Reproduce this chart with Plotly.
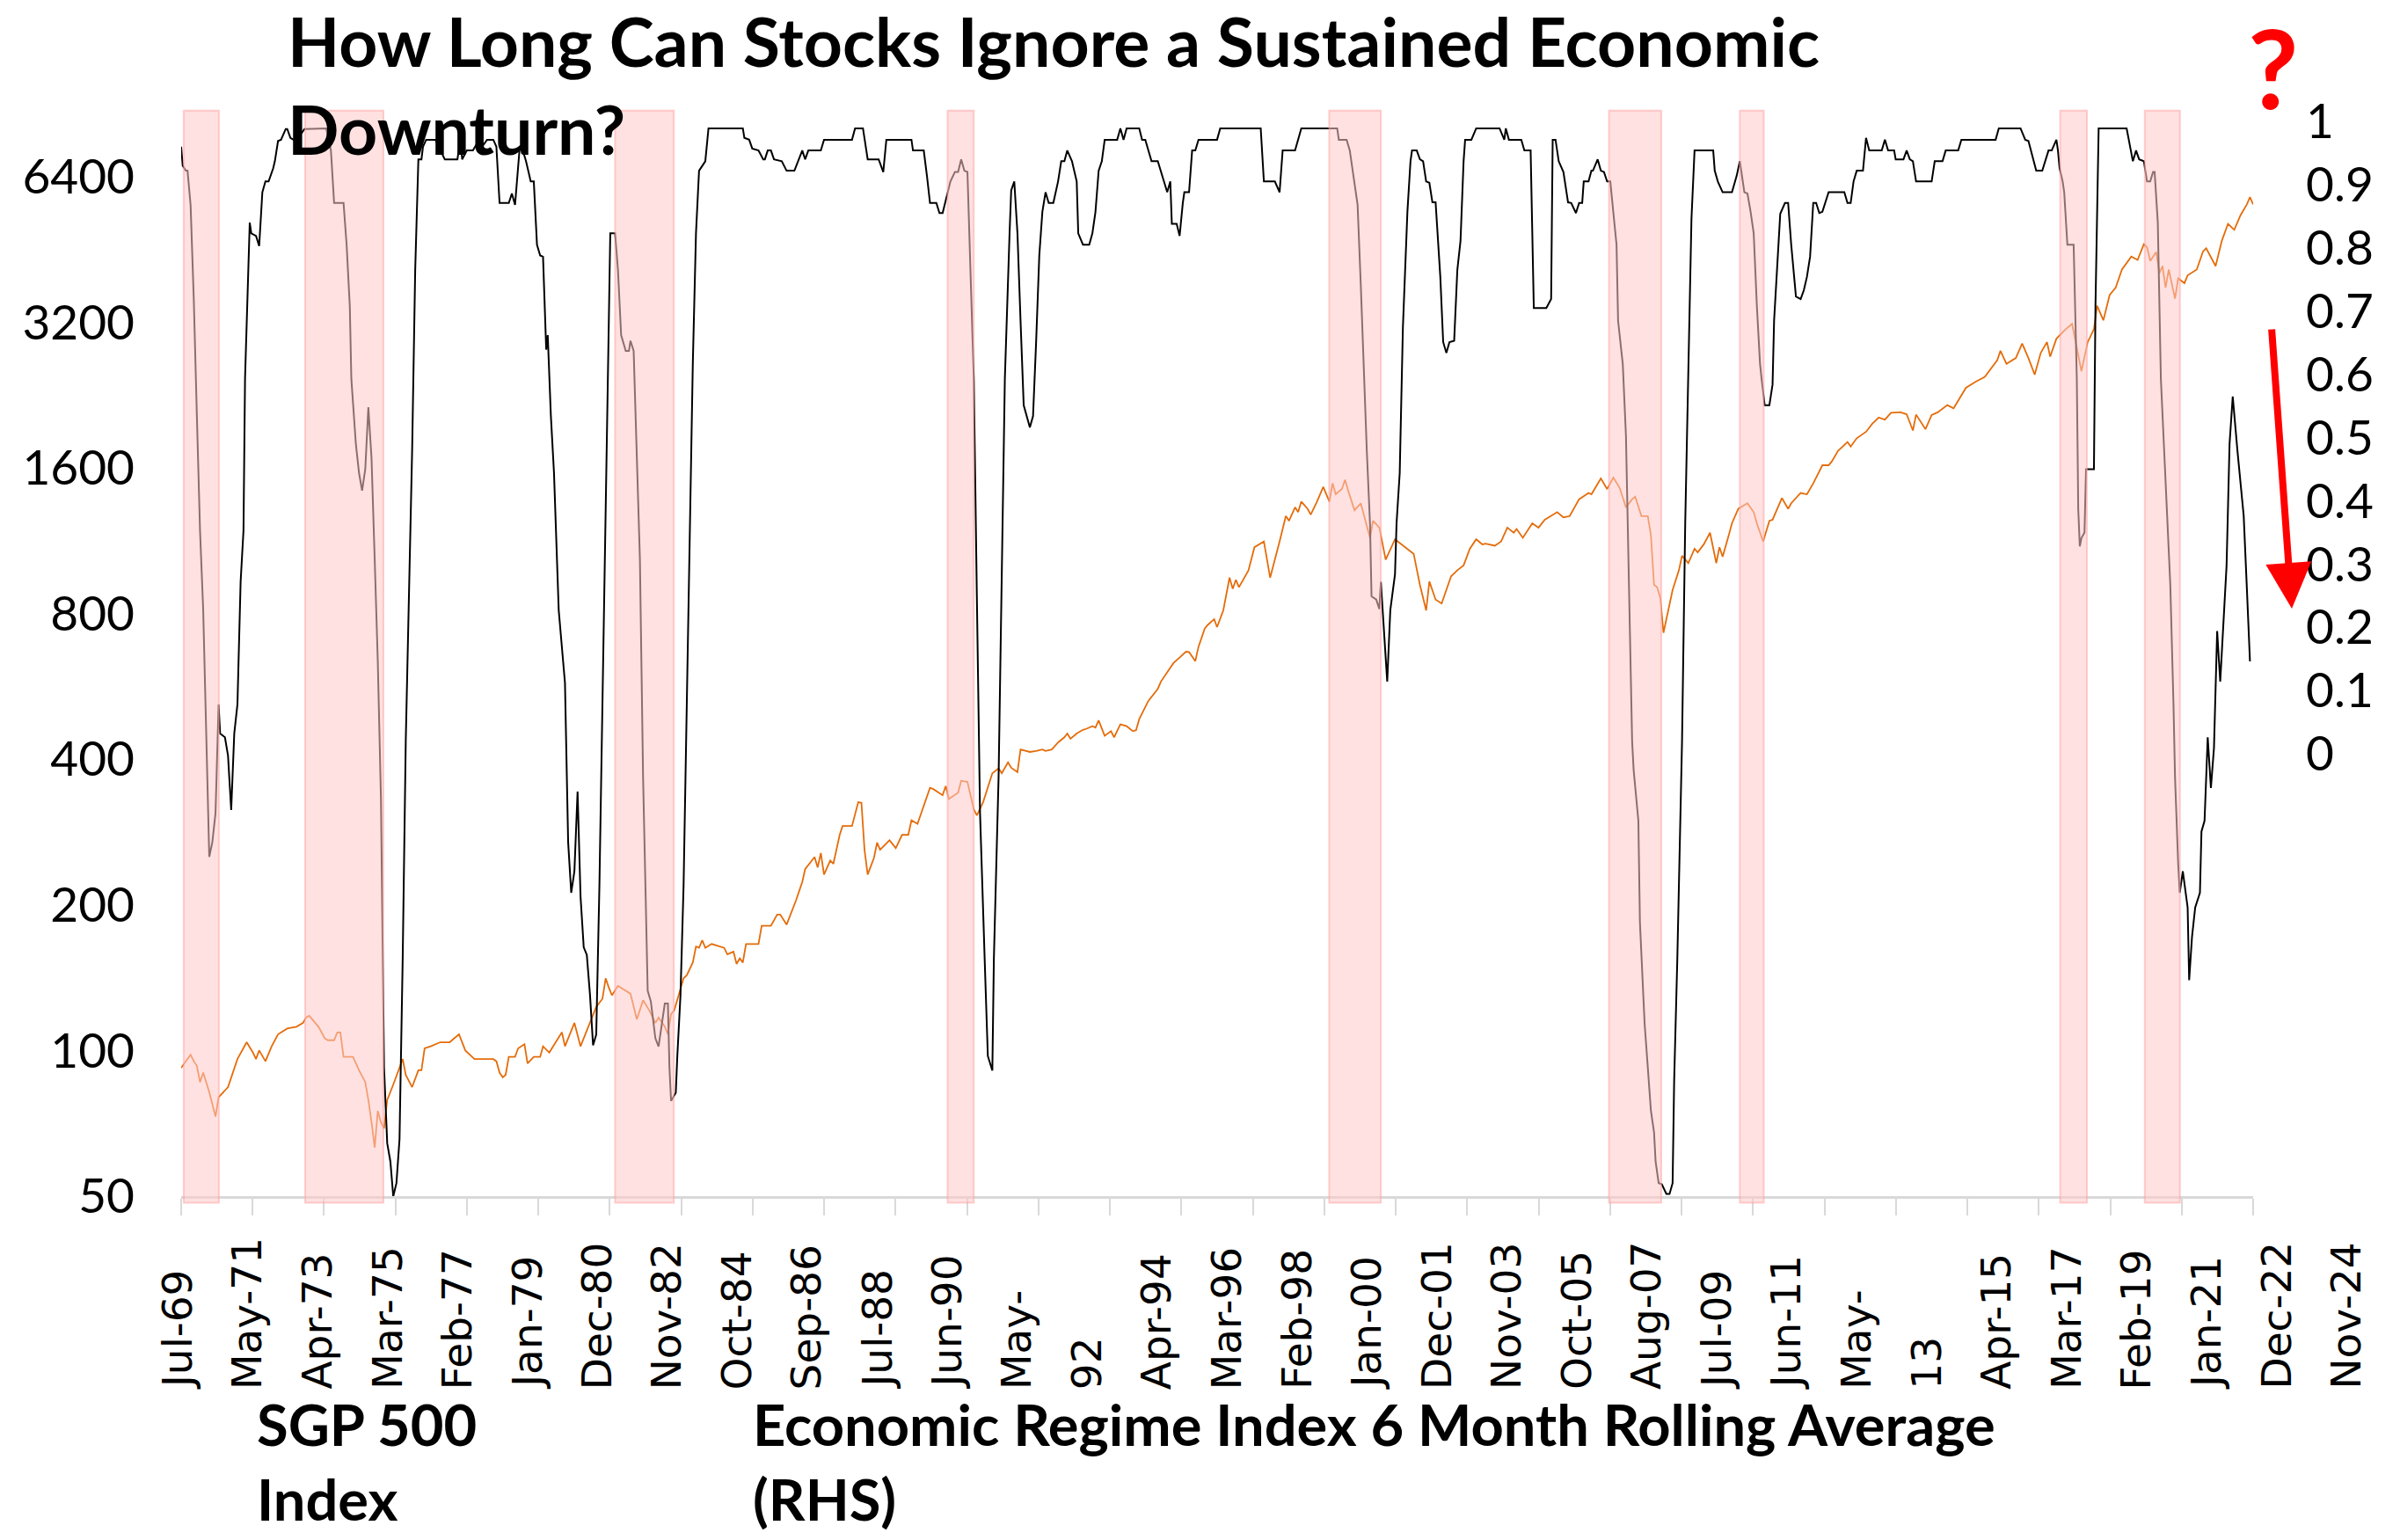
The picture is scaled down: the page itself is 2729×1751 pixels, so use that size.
import numpy as np
import pandas as pd
import plotly.graph_objects as go

# ---------------- data ----------------
sp_dates = ["1969-07","1969-10","1969-11","1969-12","1970-01","1970-02","1970-04","1970-06","1970-07","1970-10",
"1971-01","1971-04","1971-06","1971-07","1971-08","1971-10","1971-12","1972-02","1972-05","1972-08",
"1972-10","1972-11","1972-12","1973-03","1973-05","1973-06","1973-08","1973-09","1973-10","1973-11",
"1974-02","1974-04","1974-06","1974-07","1974-08","1974-09","1974-10","1974-11","1974-12","1975-01",
"1975-03","1975-05","1975-06","1975-07","1975-09","1975-11","1975-12","1976-01","1976-03","1976-06",
"1976-09","1976-12","1977-02","1977-05","1977-09","1977-11","1977-12","1978-01","1978-02","1978-03",
"1978-04","1978-06","1978-07","1978-09","1978-10","1978-12","1979-02","1979-03","1979-05","1979-07",
"1979-09","1979-10","1979-12","1980-01","1980-03","1980-06","1980-08","1980-10","1980-11","1980-12",
"1981-01","1981-03","1981-07","1981-09","1981-11","1982-01","1982-03","1982-04","1982-06","1982-07",
"1982-08","1982-09","1982-11","1982-12","1983-01","1983-03","1983-04","1983-05","1983-06","1983-07",
"1983-09","1983-12","1984-01","1984-02","1984-04","1984-05","1984-06","1984-07","1984-08","1984-12",
"1985-01","1985-04","1985-06","1985-07","1985-09","1985-12","1986-01","1986-02","1986-03","1986-05",
"1986-06","1986-07","1986-08","1986-09","1986-11","1986-12","1987-02","1987-03","1987-06","1987-08",
"1987-09","1987-10","1987-11","1988-01","1988-02","1988-03","1988-06","1988-08","1988-10","1988-12",
"1989-01","1989-03","1989-05","1989-07","1989-08","1989-11","1989-12","1990-01","1990-04","1990-05",
"1990-07","1990-09","1990-10","1990-12","1991-03","1991-05","1991-06","1991-08","1991-09","1991-11",
"1991-12","1992-03","1992-05","1992-07","1992-08","1992-10","1992-12","1993-02","1993-03","1993-04",
"1993-06","1993-08","1993-09","1993-11","1993-12","1994-01","1994-03","1994-05","1994-06","1994-08",
"1994-10","1994-12","1995-01","1995-02","1995-05","1995-08","1995-09","1995-11","1996-01","1996-03",
"1996-05","1996-06","1996-08","1996-09","1996-11","1996-12","1997-02","1997-03","1997-05","1997-07",
"1997-08","1997-09","1997-10","1998-01","1998-03","1998-06","1998-08","1998-11","1999-01","1999-02",
"1999-04","1999-05","1999-06","1999-08","1999-09","1999-11","2000-01","2000-03","2000-04","2000-05",
"2000-07","2000-08","2000-09","2000-11","2001-01","2001-04","2001-05","2001-07","2001-09","2001-12",
"2002-04","2002-06","2002-08","2002-10","2002-11","2003-01","2003-03","2003-06","2003-08","2003-10",
"2003-12","2004-02","2004-04","2004-05","2004-08","2004-10","2004-12","2005-02","2005-03","2005-05",
"2005-08","2005-10","2005-12","2006-04","2006-06","2006-08","2006-11","2007-02","2007-03","2007-06",
"2007-08","2007-10","2007-12","2008-02","2008-04","2008-05","2008-07","2008-09","2008-10","2008-11",
"2008-12","2009-01","2009-02","2009-05","2009-07","2009-08","2009-10","2009-12","2010-01","2010-03",
"2010-05","2010-07","2010-08","2010-09","2010-11","2010-12","2011-02","2011-05","2011-07","2011-08",
"2011-10","2011-12","2012-01","2012-04","2012-06","2012-07","2012-10","2012-12","2013-02","2013-05",
"2013-07","2013-08","2013-10","2014-01","2014-02","2014-04","2014-07","2014-09","2014-11","2015-01",
"2015-03","2015-06","2015-08","2015-10","2015-11","2016-02","2016-04","2016-06","2016-09","2016-11",
"2017-03","2017-06","2017-09","2018-01","2018-02","2018-04","2018-07","2018-09","2018-11","2019-01",
"2019-03","2019-05","2019-06","2019-08","2019-11","2020-01","2020-04","2020-06","2020-08","2020-09",
"2020-11","2021-01","2021-03","2021-05","2021-08","2021-10","2021-12","2022-01","2022-02","2022-04",
"2022-05","2022-06","2022-07","2022-08","2022-10","2022-11","2023-01","2023-02","2023-05","2023-07",
"2023-08","2023-11","2024-01","2024-03","2024-05","2024-07","2024-09","2024-10","2024-11"]
sp_values = [92,98,95,93,86,90,82,73,80,84,
96,104,99,96,100,95,102,108,111,112,
114,117,118,112,106,105,105,109,109,97,
97,91,86,79,71,63,75,71,69,79,
85,92,96,89,84,91,91,101,102,104,
104,108,100,96,96,96,95,90,88,89,
97,97,101,103,94,97,97,102,99,104,
109,102,110,114,102,114,123,128,141,135,
130,136,131,116,127,121,114,117,112,108,
119,121,134,141,143,152,164,163,169,163,
166,164,163,158,160,151,155,152,166,166,
181,181,191,191,182,204,213,223,237,247,
251,239,256,231,247,243,279,291,291,326,
325,260,231,250,269,260,272,262,279,279,
299,294,320,349,347,337,352,331,341,361,
359,315,306,326,374,383,374,394,384,376,
419,414,416,419,416,419,433,444,452,441,
452,460,462,468,465,481,447,457,444,472,
468,457,459,484,528,559,579,606,632,649,
667,666,638,683,745,758,779,750,812,949,
900,939,907,982,1097,1127,949,1127,1272,1244,
1326,1296,1363,1317,1281,1363,1461,1363,1487,1411,
1447,1512,1433,1308,1352,1147,1244,1204,1034,1139,
1089,1063,917,812,932,855,839,955,983,1006,
1089,1139,1112,1116,1105,1127,1204,1175,1196,1147,
1229,1204,1250,1296,1264,1272,1378,1420,1411,1522,
1447,1527,1456,1326,1378,1395,1272,1272,1164,917,
907,862,730,895,982,1053,1017,1089,1070,1112,
1175,1017,1097,1048,1164,1229,1317,1352,1296,1229,
1127,1244,1250,1386,1317,1352,1420,1411,1486,1620,
1620,1650,1735,1810,1771,1842,1900,1975,2033,2013,
2079,2086,2065,1911,2062,1924,2057,2086,2157,2124,
2342,2409,2468,2672,2793,2625,2699,2892,2699,2493,
2765,2912,2717,2959,3098,3175,2535,2912,3098,3460,
3229,3643,3772,4112,4374,4306,4640,4573,4285,4470,
4039,4181,3772,4112,3581,3944,3854,4000,4112,4482,
4549,4181,4718,5110,4968,5325,5607,5804,5607]

eri_dates = ["1969-07-01","1969-07-16","1969-08-16","1969-09-01","1969-10-01","1969-11-01","1969-12-01","1970-01-01","1970-02-01","1970-03-01",
"1970-04-01","1970-05-01","1970-06-01","1970-07-01","1970-07-16","1970-09-01","1970-10-01","1970-11-01","1970-12-01","1971-01-01",
"1971-02-01","1971-03-01","1971-03-16","1971-05-01","1971-05-16","1971-07-01","1971-08-01","1971-09-01","1971-10-01","1971-11-01",
"1971-12-16","1972-01-01","1972-02-01","1972-03-01","1972-04-16","1972-05-01","1972-06-01","1972-07-01","1972-08-16","1972-10-16",
"1973-05-16","1973-07-01","1973-08-01","1973-11-01","1973-12-01","1974-01-01","1974-01-16","1974-03-01","1974-04-01","1974-05-01",
"1974-06-01","1974-07-01","1974-08-01","1974-09-01","1974-10-01","1974-11-01","1974-11-16","1974-12-01","1975-01-01","1975-02-01",
"1975-03-01","1975-04-01","1975-05-01","1975-06-01","1975-07-01","1975-08-01","1975-09-01","1975-10-01","1975-11-01","1975-12-01",
"1975-12-16","1976-01-16","1976-04-16","1976-05-16","1976-07-16","1976-11-16","1976-12-16","1977-01-01","1977-02-16","1977-04-16",
"1977-06-16","1977-07-16","1977-09-01","1977-11-01","1977-12-01","1978-01-01","1978-04-01","1978-05-01","1978-06-01","1978-07-16",
"1978-08-16","1978-09-16","1978-11-01","1978-12-01","1979-01-01","1979-02-01","1979-03-01","1979-04-01","1979-04-16","1979-05-16",
"1979-06-16","1979-08-01","1979-09-01","1979-10-01","1979-11-01","1979-12-01","1980-01-01","1980-02-01","1980-03-01","1980-04-01",
"1980-05-01","1980-06-01","1980-07-01","1980-08-01","1980-09-01","1980-10-01","1980-11-01","1980-12-16","1981-02-01","1981-03-01",
"1981-04-01","1981-05-16","1981-06-16","1981-07-01","1981-08-01","1981-09-01","1981-10-01","1981-11-01","1981-12-16","1982-01-16",
"1982-03-01","1982-04-01","1982-05-01","1982-06-01","1982-07-01","1982-07-16","1982-08-01","1982-09-16","1982-10-01","1982-11-01",
"1982-12-01","1983-01-01","1983-02-01","1983-03-01","1983-04-01","1983-05-01","1983-07-01","1983-08-01","1984-07-01","1984-07-16",
"1984-09-01","1984-10-01","1984-12-01","1985-01-16","1985-02-01","1985-03-01","1985-04-01","1985-05-01","1985-07-16","1985-09-01",
"1985-11-16","1986-02-01","1986-03-01","1986-04-01","1986-08-01","1986-09-01","1987-06-01","1987-07-01","1987-09-16","1987-11-01",
"1988-02-16","1988-04-01","1988-05-01","1989-01-01","1989-01-16","1989-05-01","1989-06-01","1989-07-01","1989-09-01","1989-10-01",
"1989-11-01","1989-12-01","1990-01-16","1990-03-01","1990-04-01","1990-05-01","1990-06-01","1990-07-01","1990-08-01","1990-09-01",
"1990-10-01","1990-11-01","1990-12-16","1991-01-16","1991-03-01","1991-03-16","1991-05-01","1991-06-01","1991-07-01","1991-08-16",
"1991-09-01","1991-10-01","1991-11-01","1991-12-01","1992-01-01","1992-03-01","1992-04-01","1992-05-01","1992-06-01","1992-07-01",
"1992-08-01","1992-09-01","1992-10-16","1992-12-01","1993-01-01","1993-02-01","1993-03-01","1993-04-16","1993-06-01","1993-06-16",
"1993-08-01","1993-10-01","1993-11-01","1993-12-01","1994-01-01","1994-02-01","1994-03-01","1994-07-01","1994-08-01","1994-09-01",
"1994-10-01","1995-02-01","1995-03-01","1995-04-01","1995-06-01","1995-08-01","1995-11-01","1995-12-01","1995-12-16","1996-02-01",
"1996-03-01","1996-04-01","1996-04-16","1996-06-01","1996-07-01","1996-08-01","1996-09-01","1997-03-01","1997-04-01","1998-05-01",
"1998-06-01","1998-09-16","1998-11-01","1998-12-01","1999-04-01","1999-06-01","2000-05-16","2000-06-01","2000-08-16","2000-09-16",
"2000-11-01","2000-12-01","2001-01-01","2001-02-01","2001-03-01","2001-04-01","2001-04-16","2001-06-01","2001-07-01","2001-07-16",
"2001-09-16","2001-10-16","2001-12-01","2001-12-16","2002-01-16","2002-02-16","2002-04-01","2002-05-01","2002-05-16","2002-07-01",
"2002-08-01","2002-09-01","2002-10-01","2002-11-01","2002-12-01","2003-01-01","2003-02-16","2003-03-16","2003-04-16","2003-05-16",
"2003-07-01","2003-08-01","2003-09-01","2003-10-01","2003-10-16","2003-12-16","2004-02-01","2004-09-16","2004-11-01","2004-11-16",
"2004-12-16","2005-04-16","2005-05-16","2005-07-16","2005-08-16","2005-12-16","2006-02-01","2006-02-16","2006-03-16","2006-04-16",
"2006-06-01","2006-07-01","2006-07-16","2006-08-16","2006-10-01","2006-11-01","2006-12-01","2006-12-16","2007-02-01","2007-03-01",
"2007-03-16","2007-05-01","2007-06-01","2007-07-01","2007-08-01","2007-09-01","2007-10-01","2007-11-01","2007-11-16","2008-01-01",
"2008-02-01","2008-03-01","2008-04-01","2008-04-16","2008-06-01","2008-06-16","2008-08-01","2008-09-01","2008-10-01","2008-11-01",
"2008-11-16","2008-12-16","2009-01-16","2009-03-01","2009-04-01","2009-05-01","2009-05-16","2009-06-16","2009-08-01","2009-09-01",
"2009-10-01","2009-11-01","2009-12-01","2010-06-01","2010-06-16","2010-07-16","2010-09-01","2010-12-01","2011-01-16","2011-02-16",
"2011-04-01","2011-05-01","2011-06-01","2011-07-01","2011-08-01","2011-09-01","2011-09-16","2011-10-16","2011-12-01","2012-01-01",
"2012-01-16","2012-02-16","2012-03-16","2012-05-01","2012-06-01","2012-07-01","2012-08-01","2012-08-16","2012-10-01","2012-11-01",
"2012-12-01","2013-01-01","2013-02-01","2013-03-01","2013-04-01","2013-05-01","2013-07-01","2013-12-01","2014-01-01","2014-02-01",
"2014-03-01","2014-04-01","2014-06-01","2014-07-01","2014-08-01","2014-12-01","2015-01-01","2015-02-01","2015-04-01","2015-04-16",
"2015-07-01","2015-08-01","2015-09-01","2015-10-01","2015-11-01","2016-04-01","2016-05-01","2016-07-16","2016-08-16","2016-12-16",
"2017-01-16","2017-12-16","2018-01-16","2018-08-16","2018-10-01","2018-11-01","2019-01-16","2019-03-16","2019-05-16","2019-06-16",
"2019-08-01","2019-08-16","2019-09-01","2019-10-01","2019-10-16","2019-11-16","2020-01-16","2020-02-16","2020-03-01","2020-03-16",
"2020-04-01","2020-05-01","2020-05-16","2020-08-01","2020-08-16","2020-09-16","2021-06-16","2021-07-16","2021-08-16","2021-09-16",
"2021-10-16","2021-12-01","2022-01-01","2022-02-01","2022-03-01","2022-03-16","2022-04-16","2022-05-16","2022-06-16","2022-07-16",
"2022-08-16","2022-09-16","2022-10-01","2022-11-01","2022-11-16","2022-12-16","2023-02-01","2023-02-16","2023-03-16","2023-04-16",
"2023-06-01","2023-06-16","2023-07-16","2023-08-16","2023-09-16","2023-10-16","2023-11-16","2023-12-16","2024-02-01","2024-02-16",
"2024-03-16","2024-04-16","2024-06-01","2024-07-01","2024-08-01","2024-09-01","2024-10-01"]
eri_values = [0.960,0.930,0.922,0.922,0.868,0.719,0.536,0.353,0.227,0.020,
-0.163,-0.140,-0.094,0.078,0.032,0.026,-0.003,-0.089,0.032,0.078,
0.272,0.353,0.593,0.840,0.823,0.819,0.803,0.888,0.905,0.905,
0.926,0.937,0.969,0.971,0.988,0.988,0.974,0.971,0.974,0.988,
0.989,0.954,0.871,0.871,0.805,0.708,0.593,0.490,0.444,0.416,
0.450,0.548,0.467,0.307,0.146,-0.071,-0.255,-0.496,-0.616,-0.645,
-0.700,-0.679,-0.610,-0.324,0.020,0.249,0.479,0.765,0.940,0.940,
0.960,0.971,0.971,0.960,0.940,0.940,0.974,0.940,0.954,0.954,
0.971,0.960,0.971,0.971,0.960,0.871,0.871,0.886,0.868,0.958,
0.954,0.937,0.905,0.905,0.805,0.788,0.786,0.639,0.662,0.536,
0.444,0.227,0.169,0.112,-0.140,-0.220,-0.186,-0.060,-0.226,-0.306,
-0.318,-0.381,-0.461,-0.444,-0.209,0.078,0.421,0.823,0.823,0.765,
0.662,0.637,0.637,0.653,0.637,0.479,0.307,-0.037,-0.375,-0.392,
-0.450,-0.463,-0.427,-0.395,-0.395,-0.496,-0.549,-0.536,-0.478,-0.381,
-0.209,0.078,0.364,0.616,0.823,0.922,0.937,0.989,0.989,0.974,
0.971,0.957,0.954,0.940,0.940,0.954,0.954,0.940,0.937,0.922,
0.922,0.954,0.940,0.954,0.954,0.971,0.971,0.989,0.989,0.940,
0.940,0.920,0.971,0.971,0.954,0.954,0.914,0.871,0.871,0.855,
0.855,0.874,0.905,0.920,0.920,0.940,0.922,0.920,0.765,0.593,
0.249,-0.094,-0.324,-0.478,-0.501,-0.324,-0.037,0.307,0.593,0.823,
0.891,0.905,0.823,0.685,0.551,0.516,0.534,0.651,0.788,0.857,
0.888,0.871,0.871,0.905,0.937,0.937,0.954,0.937,0.905,0.823,
0.805,0.805,0.823,0.857,0.922,0.937,0.971,0.971,0.989,0.971,
0.989,0.989,0.971,0.971,0.937,0.937,0.888,0.905,0.838,0.838,
0.819,0.871,0.888,0.888,0.954,0.954,0.971,0.971,0.989,0.989,
0.905,0.905,0.888,0.954,0.954,0.989,0.989,0.971,0.971,0.954,
0.905,0.868,0.742,0.593,0.479,0.364,0.249,0.244,0.229,0.272,
0.114,0.227,0.284,0.364,0.444,0.674,0.857,0.937,0.954,0.954,
0.940,0.937,0.905,0.903,0.872,0.872,0.754,0.651,0.634,0.651,
0.653,0.765,0.811,0.937,0.971,0.971,0.989,0.989,0.971,0.989,
0.971,0.971,0.954,0.954,0.705,0.705,0.719,0.971,0.971,0.937,
0.920,0.888,0.872,0.871,0.855,0.871,0.871,0.905,0.905,0.922,
0.922,0.940,0.922,0.920,0.905,0.905,0.857,0.805,0.685,0.616,
0.502,0.249,0.020,-0.026,-0.106,-0.266,-0.427,-0.496,-0.564,-0.599,
-0.645,-0.679,-0.681,-0.696,-0.696,-0.679,-0.518,-0.324,0.020,0.364,
0.593,0.846,0.954,0.954,0.922,0.905,0.888,0.888,0.914,0.937,
0.888,0.886,0.857,0.823,0.708,0.616,0.593,0.551,0.551,0.584,
0.685,0.765,0.854,0.871,0.871,0.805,0.742,0.723,0.719,0.733,
0.754,0.786,0.871,0.871,0.855,0.857,0.888,0.888,0.871,0.871,
0.905,0.922,0.922,0.974,0.954,0.954,0.971,0.954,0.954,0.940,
0.940,0.954,0.940,0.937,0.905,0.905,0.937,0.937,0.954,0.954,
0.971,0.971,0.989,0.989,0.971,0.969,0.922,0.922,0.954,0.954,
0.971,0.954,0.926,0.905,0.888,0.805,0.805,0.593,0.387,0.328,
0.341,0.350,0.450,0.450,0.708,0.989,0.989,0.963,0.937,0.954,
0.940,0.937,0.905,0.905,0.920,0.920,0.840,0.593,0.479,0.364,
0.267,0.078,-0.037,-0.175,-0.220,-0.186,-0.243,-0.358,-0.289,-0.243,
-0.220,-0.123,-0.106,0.026,-0.054,0.009,0.194,0.114,0.249,0.298,
0.490,0.565,0.479,0.433,0.376,0.261,0.146]

band_start = ["1969-07-26","1972-10-22","1981-02-01","1989-12-19","2000-02-28",
              "2007-08-19","2011-02-16","2019-09-07","2021-12-10"]
band_end = ["1970-07-04","1974-11-25","1982-08-28","1990-09-01","2001-07-16",
            "2009-01-10","2011-10-07","2020-05-25","2022-11-18"]

x_tick_labels = ["Jul-69","May-71","Apr-73","Mar-75","Feb-77","Jan-79","Dec-80","Nov-82",
                 "Oct-84","Sep-86","Jul-88","Jun-90","May-","92","Apr-94","Mar-96","Feb-98",
                 "Jan-00","Dec-01","Nov-03","Oct-05","Aug-07","Jul-09","Jun-11","May-","13",
                 "Apr-15","Mar-17","Feb-19","Jan-21","Dec-22","Nov-24"]
left_tick_vals = [50, 100, 200, 400, 800, 1600, 3200, 6400]
right_tick_vals = [0, 0.1, 0.2, 0.3, 0.4, 0.5, 0.6, 0.7, 0.8, 0.9, 1]
right_tick_text = ["0", "0.1", "0.2", "0.3", "0.4", "0.5", "0.6", "0.7", "0.8", "0.9", "1"]

# ---------------- layout geometry ----------------
W, H = 2729, 1751
L, R, T, B = 206, 167, 122, 391
PW, PH = W - L - R, H - T - B
BOTTOM = T + PH

def px_x(p):
    return (p - L) / PW

def px_y(p):
    return (BOTTOM - p) / PH

x_start, x_end = pd.Timestamp("1969-07-01"), pd.Timestamp("2024-11-01")
tick_marks = [x_start + (x_end - x_start) * k / 29 for k in range(30)]

fig = go.Figure()
fig.add_trace(go.Scatter(x=sp_dates, y=sp_values, mode="lines", name="SGP 500 Index",
                         line=dict(color="#E46C0A", width=1.8), yaxis="y"))
fig.add_trace(go.Scatter(x=eri_dates, y=eri_values, mode="lines",
                         name="Economic Regime Index 6 Month Rolling Average (RHS)",
                         line=dict(color="#000000", width=2.0), yaxis="y2"))

for s, e in zip(band_start, band_end):
    fig.add_shape(type="rect", xref="x", yref="paper", x0=s, x1=e, y0=-0.006, y1=0.997,
                  fillcolor="rgba(255,200,200,0.55)",
                  line=dict(color="rgba(255,160,160,0.5)", width=2), layer="above")

# x tick labels (flowing, bottom aligned)
for s, lab in enumerate(x_tick_labels):
    p = 201 + 79.55 * s
    fig.add_annotation(text=lab, xref="paper", yref="paper", x=px_x(p), y=px_y(1582),
                       xanchor="center", yanchor="bottom", textangle=-90, showarrow=False,
                       font=dict(family="DejaVu Sans", size=47, color="black"))

# legend-like captions
fig.add_annotation(text="<b>SGP 500<br>Index</b>", xref="paper", yref="paper",
                   x=px_x(290), y=px_y(1578), xanchor="left", yanchor="top", align="left",
                   showarrow=False, font=dict(family="Lato", size=65, color="black"))
fig.add_annotation(text="<b>Economic Regime Index 6 Month Rolling Average<br>(RHS)</b>",
                   xref="paper", yref="paper", x=px_x(854), y=px_y(1578), xanchor="left",
                   yanchor="top", align="left", showarrow=False,
                   font=dict(family="Lato", size=65, color="black"))

# red question mark and arrow
fig.add_annotation(text="<b>?</b>", xref="paper", yref="paper", x=px_x(2585), y=px_y(76),
                   xanchor="center", yanchor="middle", showarrow=False,
                   font=dict(family="Lato", size=125, color="#FF0000"))
fig.add_annotation(text="", xref="paper", yref="paper", x=px_x(2606), y=px_y(692),
                   ax=-23, ay=-319, showarrow=True, arrowhead=2, arrowsize=1.3,
                   arrowwidth=8, arrowcolor="#FF0000")

fig.update_layout(
    width=W, height=H, margin=dict(l=L, r=R, t=T, b=B),
    paper_bgcolor="white", plot_bgcolor="white", showlegend=False,
    title=dict(text="<b>How Long Can Stocks Ignore a Sustained Economic<br>Downturn?</b>",
               font=dict(family="Lato", size=77, color="black"),
               x=327 / W, xanchor="left", xref="container",
               y=1 - 76 / H, yanchor="top", yref="container"),
    xaxis=dict(type="date", range=[x_start, x_end], tickvals=tick_marks, showticklabels=False,
               ticks="outside", ticklen=19, tickwidth=2, tickcolor="#D9D9D9",
               showline=True, linecolor="#D9D9D9", linewidth=2.5, showgrid=False, zeroline=False),
    yaxis=dict(type="log", range=[np.log10(50), np.log10(8900)], tickvals=left_tick_vals,
               ticktext=[str(v) for v in left_tick_vals], ticks="", showgrid=False,
               zeroline=False, showline=False, ticklabelstandoff=52,
               tickfont=dict(family="Lato", size=55, color="black")),
    yaxis2=dict(overlaying="y", side="right", range=[-0.6996, 1.0223], tickvals=right_tick_vals,
                ticktext=right_tick_text, ticks="", showgrid=False, zeroline=False,
                showline=False, ticklabelstandoff=59,
                tickfont=dict(family="Lato", size=55, color="black")),
)

fig.write_html("out.html", config={"displayModeBar": False},
               post_script="document.body.style.margin='0';document.body.style.overflow='hidden';")
